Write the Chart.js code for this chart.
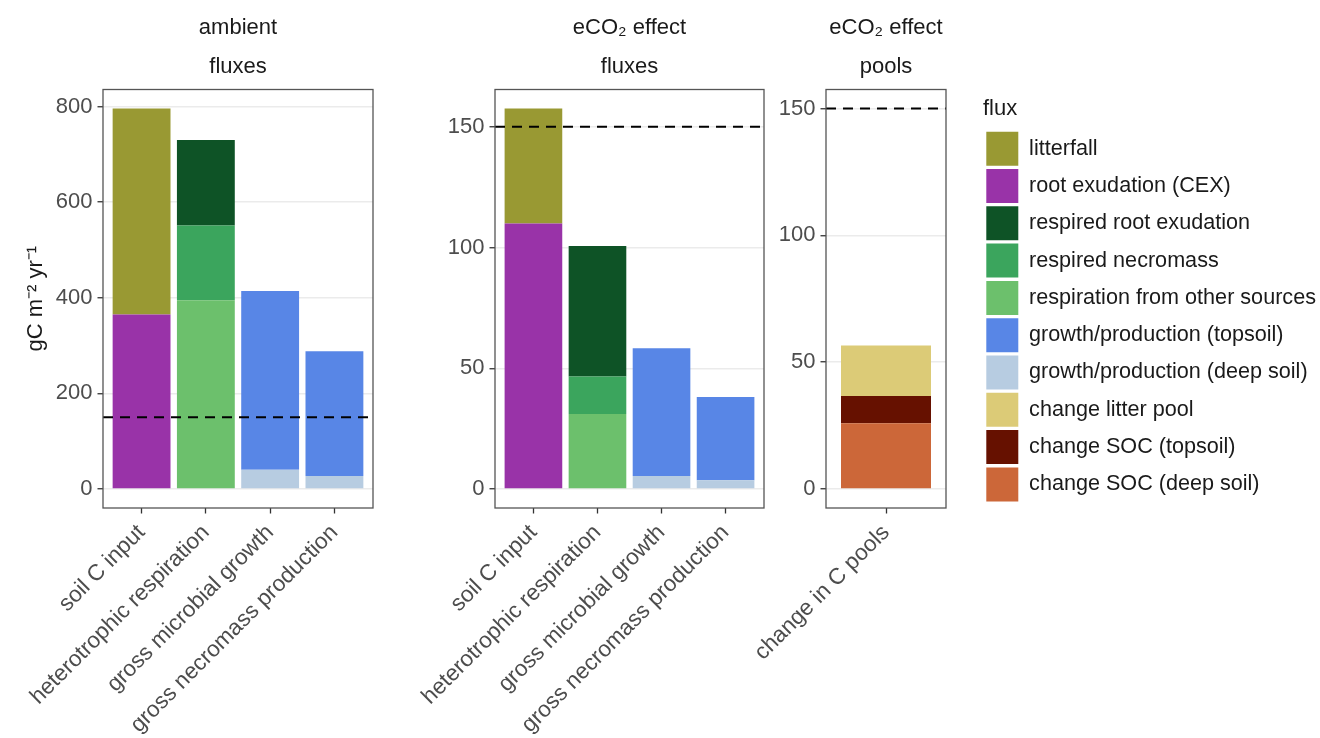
<!DOCTYPE html>
<html>
<head>
<meta charset="utf-8">
<script src="https://cdn.jsdelivr.net/npm/chart.js@4.4.1/dist/chart.umd.min.js"></script>
<style>
  html, body { margin: 0; padding: 0; background: #fff; overflow: hidden; }
  #wrap { position: relative; width: 1320px; height: 738px; }
  #wrap canvas { position: absolute; left: 0; top: 0; }
</style>
</head>
<body>
<div id="wrap">
  <canvas id="ambient" width="1320" height="738"></canvas>
  <canvas id="eco2flux" width="1320" height="738"></canvas>
  <canvas id="eco2pool" width="1320" height="738"></canvas>
  <canvas id="legend" width="337" height="500" style="left:983px;top:80px"></canvas>
</div>
<script>
// soil C budget: ambient fluxes, eCO2 effect on fluxes, eCO2 effect on pools (gC m-2 yr-1)

const FLUXES = [
  "litterfall",
  "root exudation (CEX)",
  "respired root exudation",
  "respired necromass",
  "respiration from other sources",
  "growth/production (topsoil)",
  "growth/production (deep soil)",
  "change litter pool",
  "change SOC (topsoil)",
  "change SOC (deep soil)",
];
const FLUX_COLORS = [
  "#999933", "#9933A8", "#0E5326", "#3BA55D", "#6CC06C",
  "#5886E6", "#B7CCE1", "#DCCB77", "#661100", "#CC6739",
];

const FLUX_CATS = ["soil C input", "heterotrophic respiration", "gross microbial growth", "gross necromass production"];
const POOL_CATS = ["change in C pools"];

// segment heights; rows follow FLUXES, columns follow the panel's categories, null = no segment
const AMBIENT_VALUES = [
  [431, null, null, null],
  [365, null, null, null],
  [null, 179, null, null],
  [null, 156, null, null],
  [null, 395, null, null],
  [null, null, 374, 261],
  [null, null, 40, 27],
  [null, null, null, null],
  [null, null, null, null],
  [null, null, null, null],
];
const ECO2_FLUX_VALUES = [
  [47.6, null, null, null],
  [110, null, null, null],
  [null, 54.1, null, null],
  [null, 15.5, null, null],
  [null, 31.1, null, null],
  [null, null, 52.9, 34.5],
  [null, null, 5.4, 3.6],
  [null, null, null, null],
  [null, null, null, null],
  [null, null, null, null],
];
const ECO2_POOL_VALUES = [
  [null], [null], [null], [null], [null], [null], [null],
  [19.9],
  [10.8],
  [25.9],
];

const REF_LINE = 150; // dashed reference line
const AMBIENT_TICKS = [0, 200, 400, 600, 800];
const ECO2_TICKS = [0, 50, 100, 150];

const FONT = "'Liberation Sans', Arial, Helvetica, sans-serif";
const TEXT = "#4D4D4D";
const INK = "#1A1A1A";
const GRID = "#EBEBEB";
const AXIS = "#333333";

const W = 1320, H = 738;
const PLOT_TOP = 89.5, PLOT_BOTTOM = 508;
const Y_AXIS_W = 100;

// facet strip text above each panel
const stripPlugin = {
  id: "strip",
  afterDraw(chart, args, opts) {
    const { ctx, chartArea } = chart;
    const cx = (chartArea.left + chartArea.right) / 2;
    ctx.save();
    ctx.font = `22px ${FONT}`;
    ctx.fillStyle = INK;
    ctx.textAlign = "center";
    ctx.textBaseline = "middle";
    (opts.lines || []).forEach((t, i) => ctx.fillText(t, cx, chartArea.top - 62 + i * 39.5));
    ctx.restore();
  },
};

// panel border all round, like theme_bw
const borderPlugin = {
  id: "panelBorder",
  afterDraw(chart) {
    const { ctx, chartArea: a } = chart;
    ctx.save();
    ctx.strokeStyle = "#555";
    ctx.lineWidth = 1.3;
    ctx.strokeRect(a.left, a.top, a.right - a.left, a.bottom - a.top);
    ctx.restore();
  },
};

function makePanel(id, { left, right, cats, values, ticks, strip, yTitle }) {
  const n = cats.length;
  const totals = cats.map((_, i) => values.reduce((s, row) => s + (row[i] || 0), 0));
  const top = Math.max(...totals, REF_LINE);
  const pad = top * 0.05;
  const xMin = 0.4, xMax = n + 0.6;
  // one category spans the whole axis, so its bar ruler is 1.2 units wide
  const barPct = n > 1 ? 0.9 : 0.9 / 1.2;

  const datasets = [{
    type: "line",
    data: [{ x: xMin, y: REF_LINE }, { x: xMax, y: REF_LINE }],
    borderColor: "#000",
    borderWidth: 2,
    borderDash: [10, 7],
    pointRadius: 0,
    order: -1,
  }];
  // stack bottom-up: last flux in legend order sits at the bottom
  for (let f = FLUXES.length - 1; f >= 0; f--) {
    const pts = values[f].map((v, i) => (v == null ? null : { x: i + 1, y: v })).filter(Boolean);
    if (!pts.length) continue;
    datasets.push({
      type: "bar",
      label: FLUXES[f],
      data: pts,
      backgroundColor: FLUX_COLORS[f],
      borderWidth: 0,
      categoryPercentage: 1,
      barPercentage: barPct,
    });
  }

  return new Chart(document.getElementById(id), {
    type: "bar",
    data: { datasets },
    plugins: [stripPlugin, borderPlugin],
    options: {
      responsive: false,
      animation: false,
      events: [],
      layout: { padding: { left: left - Y_AXIS_W, right: W - right, top: PLOT_TOP, bottom: 0 } },
      plugins: {
        legend: { display: false },
        tooltip: { enabled: false },
        strip: { lines: strip },
      },
      scales: {
        x: {
          type: "linear",
          min: xMin,
          max: xMax,
          offset: false,
          stacked: true,
          afterBuildTicks: (s) => { s.ticks = cats.map((_, i) => ({ value: i + 1 })); },
          afterFit: (s) => { s.height = H - PLOT_BOTTOM; },
          border: { display: false },
          grid: { offset: false, drawOnChartArea: false, drawTicks: true, tickLength: 5.5, tickColor: AXIS, tickWidth: 1.3 },
          ticks: {
            autoSkip: false,
            minRotation: 45,
            maxRotation: 45,
            padding: 6,
            color: TEXT,
            font: { family: FONT, size: 22.5 },
            callback: (v) => cats[Math.round(v) - 1],
          },
        },
        y: {
          min: -pad,
          max: top + pad,
          stacked: true,
          afterBuildTicks: (s) => { s.ticks = ticks.map((v) => ({ value: v })); },
          afterFit: (s) => { s.width = Y_AXIS_W; },
          border: { display: false },
          grid: { color: GRID, lineWidth: 1.5, tickLength: 5.5, tickColor: AXIS, tickWidth: 1.3 },
          ticks: { padding: 5, color: TEXT, font: { family: FONT, size: 22 } },
          title: {
            display: !!yTitle,
            text: yTitle || "",
            color: INK,
            font: { family: FONT, size: 22 },
            padding: { top: 20, bottom: 0 },
          },
        },
      },
    },
  });
}

makePanel("ambient", {
  left: 103, right: 373, cats: FLUX_CATS, values: AMBIENT_VALUES, ticks: AMBIENT_TICKS,
  strip: ["ambient", "fluxes"], yTitle: "gC m\u207B\u00B2 yr\u207B\u00B9",
});
makePanel("eco2flux", {
  left: 495, right: 764, cats: FLUX_CATS, values: ECO2_FLUX_VALUES, ticks: ECO2_TICKS,
  strip: ["eCO\u2082 effect", "fluxes"],
});
makePanel("eco2pool", {
  left: 826, right: 946, cats: POOL_CATS, values: ECO2_POOL_VALUES, ticks: ECO2_TICKS,
  strip: ["eCO\u2082 effect", "pools"],
});

// shared legend for all three panels
new Chart(document.getElementById("legend"), {
  type: "bar",
  data: {
    labels: [],
    datasets: FLUXES.map((f, i) => ({ label: f, data: [], backgroundColor: FLUX_COLORS[i], borderWidth: 0 })),
  },
  options: {
    responsive: false,
    animation: false,
    events: [],
    layout: { padding: 0 },
    scales: { x: { display: false }, y: { display: false } },
    plugins: {
      tooltip: { enabled: false },
      legend: {
        position: "left",
        align: "start",
        maxWidth: 337,
        title: {
          display: true, position: "start", text: "flux", color: INK,
          font: { family: FONT, size: 22 }, padding: { top: 18, bottom: 4 },
        },
        labels: { boxWidth: 32, boxHeight: 34, padding: 3.3, color: INK, font: { family: FONT, size: 21.6 } },
      },
    },
  },
});
</script>
</body>
</html>
